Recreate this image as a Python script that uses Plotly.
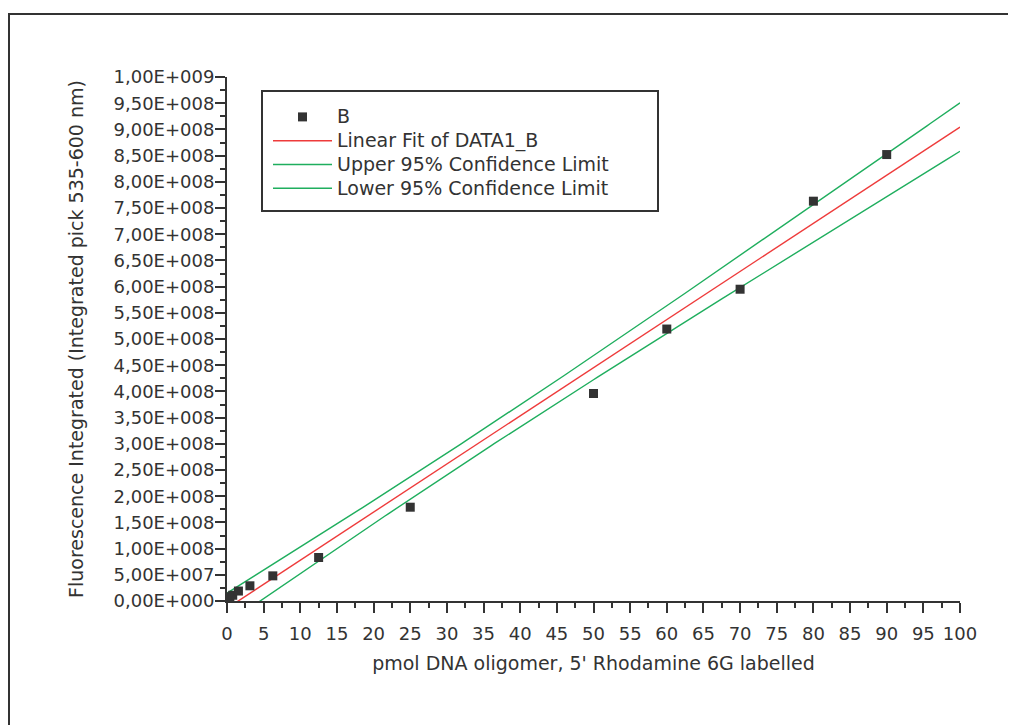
import numpy as np
import plotly.graph_objects as go

# ---- data ----
pmol = [0.39, 0.78, 1.56, 3.125, 6.25, 12.5, 25, 50, 60, 70, 80, 90]
fluorescence = [8.0e6, 1.1e7, 1.9e7, 2.9e7, 4.8e7, 8.3e7, 1.79e8, 3.96e8,
                5.19e8, 5.95e8, 7.63e8, 8.52e8]

x_tick_values = [0, 5, 10, 15, 20, 25, 30, 35, 40, 45, 50, 55, 60, 65, 70,
                 75, 80, 85, 90, 95, 100]
y_tick_values = [0, 5e7, 1e8, 1.5e8, 2e8, 2.5e8, 3e8, 3.5e8, 4e8, 4.5e8, 5e8,
                 5.5e8, 6e8, 6.5e8, 7e8, 7.5e8, 8e8, 8.5e8, 9e8, 9.5e8, 1e9]
y_tick_labels = ["0,00E+000", "5,00E+007", "1,00E+008", "1,50E+008",
                 "2,00E+008", "2,50E+008", "3,00E+008", "3,50E+008",
                 "4,00E+008", "4,50E+008", "5,00E+008", "5,50E+008",
                 "6,00E+008", "6,50E+008", "7,00E+008", "7,50E+008",
                 "8,00E+008", "8,50E+008", "9,00E+008", "9,50E+008",
                 "1,00E+009"]
series_names = ["B", "Linear Fit of DATA1_B", "Upper 95% Confidence Limit",
                "Lower 95% Confidence Limit"]
x_title = "pmol DNA oligomer, 5' Rhodamine 6G labelled"
y_title = "Fluorescence Integrated (Integrated pick 535-600 nm)"
t_crit = 2.228  # Student t, 95 %, n-2 = 10 degrees of freedom

# ---- linear fit with 95 % confidence band (computed from the data) ----
x = np.array(pmol, dtype=float)
y = np.array(fluorescence, dtype=float)
n = len(x)
slope, intercept = np.polyfit(x, y, 1)
resid = y - (intercept + slope * x)
s = np.sqrt(np.sum(resid ** 2) / (n - 2))
xbar = x.mean()
sxx = np.sum((x - xbar) ** 2)
x_fit = np.linspace(0, 100, 201)
y_fit = intercept + slope * x_fit
half = t_crit * s * np.sqrt(1.0 / n + (x_fit - xbar) ** 2 / sxx)

INK = "#333333"
RED = "#ee3b3b"
GREEN = "#1fae5e"
FONT = "DejaVu Sans"


def lname(t):
    return '<span style="font-size:19px">' + t + '</span>'


fig = go.Figure()
fig.add_trace(go.Scatter(x=x_fit, y=y_fit, mode="lines", name=lname(series_names[1]),
                         line=dict(color=RED, width=1.4), legendrank=2))
fig.add_trace(go.Scatter(x=x_fit, y=y_fit + half, mode="lines", name=lname(series_names[2]),
                         line=dict(color=GREEN, width=1.4), legendrank=3))
fig.add_trace(go.Scatter(x=x_fit, y=y_fit - half, mode="lines", name=lname(series_names[3]),
                         line=dict(color=GREEN, width=1.4), legendrank=4))
fig.add_trace(go.Scatter(x=pmol, y=fluorescence, mode="markers", name=lname(series_names[0]),
                         marker=dict(symbol="square", size=9, color=INK, line=dict(width=0)),
                         cliponaxis=False, legendrank=1))

# page is offset by the 8 px body margin of the html page
OFF = 8
W, H = 1016 - OFF, 725 - OFF
L, T = 227 - OFF, 77 - OFF
pw, ph = 733, 524
R, B = W - L - pw, H - T - ph


def px_x(p):  # page pixel -> paper x
    return (p - OFF - L) / pw


def px_y(p):  # page pixel -> paper y
    return (T + ph - (p - OFF)) / ph


shapes = [
    # outer frame of the original page
    dict(type="rect", xref="paper", yref="paper", x0=px_x(9), x1=1.6,
         y0=-0.6, y1=px_y(14), line=dict(color=INK, width=2), layer="below"),
    # legend box
    dict(type="rect", xref="paper", yref="paper", x0=px_x(262), x1=px_x(658),
         y0=px_y(211), y1=px_y(91), line=dict(color=INK, width=2),
         fillcolor="white", layer="below"),
]

fig.update_layout(
    width=W, height=H,
    margin=dict(l=L, r=R, t=T, b=B, autoexpand=False),
    paper_bgcolor="white", plot_bgcolor="white",
    font=dict(family=FONT, size=18, color=INK),
    showlegend=True,
    legend=dict(x=px_x(268), y=px_y(100), xanchor="left", yanchor="top",
                bgcolor="rgba(0,0,0,0)", borderwidth=0,
                font=dict(family=FONT, size=16, color=INK), itemwidth=59,
                tracegroupgap=0),
    shapes=shapes,
)

fig.update_xaxes(
    range=[0, 100], tickmode="array", tickvals=x_tick_values,
    showline=True, linecolor=INK, linewidth=2, showgrid=False, zeroline=False,
    ticks="outside", ticklen=10, tickwidth=1.5, tickcolor=INK,
    tickfont=dict(family=FONT, size=18, color=INK), ticklabelstandoff=5,
    minor=dict(ticks="outside", ticklen=5, tickwidth=1.5, tickcolor=INK,
               tickmode="linear", tick0=0, dtick=2.5, showgrid=False),
    title=dict(text=x_title, font=dict(family=FONT, size=19, color=INK), standoff=14),
    automargin=False,
)
fig.update_yaxes(
    range=[0, 1e9], tickmode="array", tickvals=y_tick_values, ticktext=y_tick_labels,
    showline=True, linecolor=INK, linewidth=2, showgrid=False, zeroline=False,
    ticks="outside", ticklen=10, tickwidth=1.5, tickcolor=INK,
    tickfont=dict(family=FONT, size=18, color=INK), ticklabelstandoff=-3,
    minor=dict(ticks="outside", ticklen=5, tickwidth=1.5, tickcolor=INK,
               tickmode="linear", tick0=0, dtick=2.5e7, showgrid=False),
    title=dict(text=y_title, font=dict(family=FONT, size=19, color=INK), standoff=25),
    automargin=False,
)

fig.write_html("out.html")
